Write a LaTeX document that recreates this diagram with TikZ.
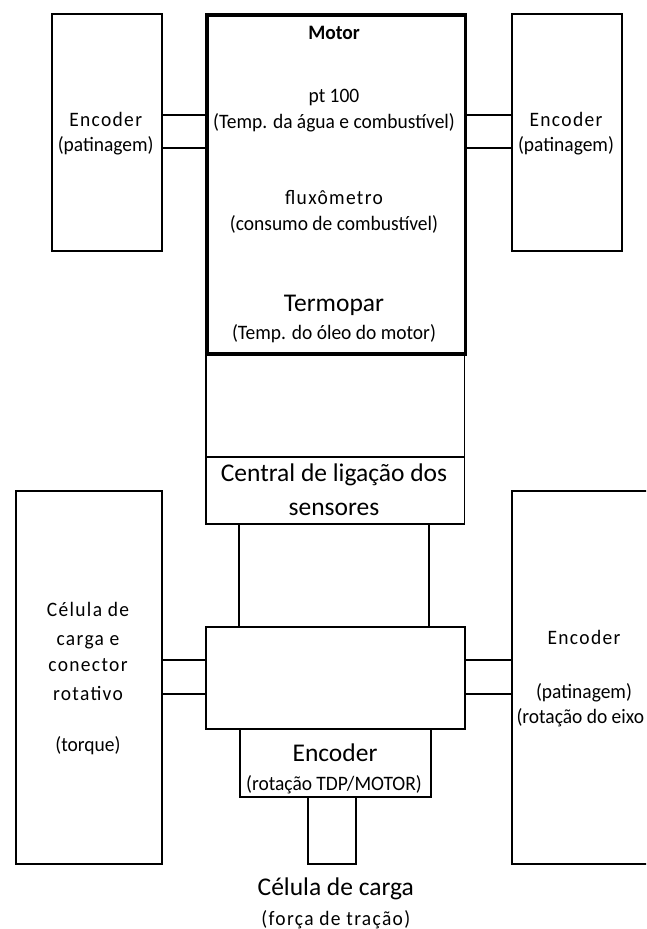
\documentclass[tikz,border=0pt]{standalone}
\usepackage{fontspec}
\setmainfont{Carlito}
\newfontfamily\narrowfont[FakeStretch=0.95]{Carlito}
\newfontfamily\spacedfont[FakeStretch=0.95, LetterSpace=6.5]{Carlito}
\newcommand{\smalltxt}{\fontsize{20.5}{24}\selectfont}
\newcommand{\bigtxt}{\fontsize{25.5}{30}\selectfont}
\tikzset{
  box/.style={draw, line width=1.8pt, inner sep=0pt, anchor=north west},
  thickbox/.style={box, line width=3.8pt},
  link/.style={line width=1.8pt},
  lbl/.style={anchor=base, inner sep=0pt, font=\narrowfont\smalltxt},
  slbl/.style={anchor=base, inner sep=0pt, font=\spacedfont\smalltxt},
  biglbl/.style={anchor=base, inner sep=0pt, font=\bigtxt},
}
\begin{document}
\begin{tikzpicture}[x=1pt, y=-1pt]
\useasboundingbox (0,0) rectangle (646,929);
\clip (0,0) rectangle (646,929);
\fill[white] (0,0) rectangle (646,929);

% boxes
\node[box, minimum width=110pt, minimum height=237.3pt] (encTL) at (50.7,12.7) {};
\node[box, minimum width=110pt, minimum height=237.3pt] (encTR) at (511,12.7) {};
\node[box, minimum width=258.5pt, minimum height=104pt] (hub) at (205,352) {};
\node[box, minimum width=258.5pt, minimum height=67pt] (central) at (205,456) {};
\node[thickbox, minimum width=258.5pt, minimum height=339.3pt] (motor) at (205,12.7) {};
\node[box, minimum width=259.4pt, minimum height=101.7pt] (mid) at (205,626) {};
\node[box, minimum width=190.8pt, minimum height=68.3pt] (encB) at (239,727.7) {};
\node[box, minimum width=47.8pt, minimum height=67.3pt] (cell) at (307.4,796) {};
\node[box, minimum width=146.2pt, minimum height=373.3pt] (torq) at (14.8,490) {};
\node[box, minimum width=149pt, minimum height=373.3pt] (encR) at (511,490) {};

% connector helper coordinates
\coordinate (ya) at (0,114.7);
\coordinate (yb) at (0,148.3);
\coordinate (yc) at (0,660);
\coordinate (yd) at (0,694);
\coordinate (xa) at (239,0);
\coordinate (xb) at (429.3,0);

% connectors
\draw[link] (encTL.east |- ya) -- (motor.west |- ya);
\draw[link] (encTL.east |- yb) -- (motor.west |- yb);
\draw[link] (motor.east |- ya) -- (encTR.west |- ya);
\draw[link] (motor.east |- yb) -- (encTR.west |- yb);
\draw[link] (central.south -| xa) -- (mid.north -| xa);
\draw[link] (central.south -| xb) -- (mid.north -| xb);
\draw[link] (torq.east |- yc) -- (mid.west |- yc);
\draw[link] (torq.east |- yd) -- (mid.west |- yd);
\draw[link] (mid.east |- yc) -- (encR.west |- yc);
\draw[link] (mid.east |- yd) -- (encR.west |- yd);

% texts top
\node[slbl] (t1) at (105.7,126.7) {Encoder};
\node[lbl] (t2) at (105.7,151.7) {(patinagem)};
\node[slbl] (t3) at (566,126.7) {Encoder};
\node[lbl] (t4) at (566,151.7) {(patinagem)};

\node[lbl, font=\narrowfont\smalltxt\bfseries] (m1) at (334,39.3) {Motor};
\node[lbl] (m2) at (334,102.7) {pt 100};
\node[lbl] (m3) at (334,128) {(Temp. da água e combustível)};
\node[slbl] (m4) at (334,204) {fluxômetro};
\node[lbl] (m5) at (334,230) {(consumo de combustível)};
\node[biglbl] (m6) at (334,311.7) {Termopar};
\node[lbl] (m7) at (334,339.3) {(Temp. do óleo do motor)};

\node[biglbl] (c1) at (334,481.7) {Central de ligação dos};
\node[biglbl] (c2) at (334,515) {sensores};

% left lower
\node[slbl] (l1) at (88,616) {Célula de};
\node[slbl] (l2) at (88,645) {carga e};
\node[slbl] (l3) at (88,671.7) {conector};
\node[slbl] (l4) at (88,700) {rotativo};
\node[lbl] (l5) at (88,751.7) {(torque)};

% right lower
\node[slbl] (r1) at (584,644) {Encoder};
\node[lbl] (r2) at (584,698.7) {(patinagem)};
\node[lbl, anchor=base west] (r3) at (516.3,723.3) {(rotação do eixo};

% middle bottom
\node[biglbl] (b1) at (335,761.7) {Encoder};
\node[lbl] (b2) at (334,790) {(rotação TDP/MOTOR)};
\node[biglbl] (b3) at (335.8,895) {Célula de carga};
\node[slbl] (b4) at (335.8,925) {(força de tração)};
\end{tikzpicture}
\end{document}
